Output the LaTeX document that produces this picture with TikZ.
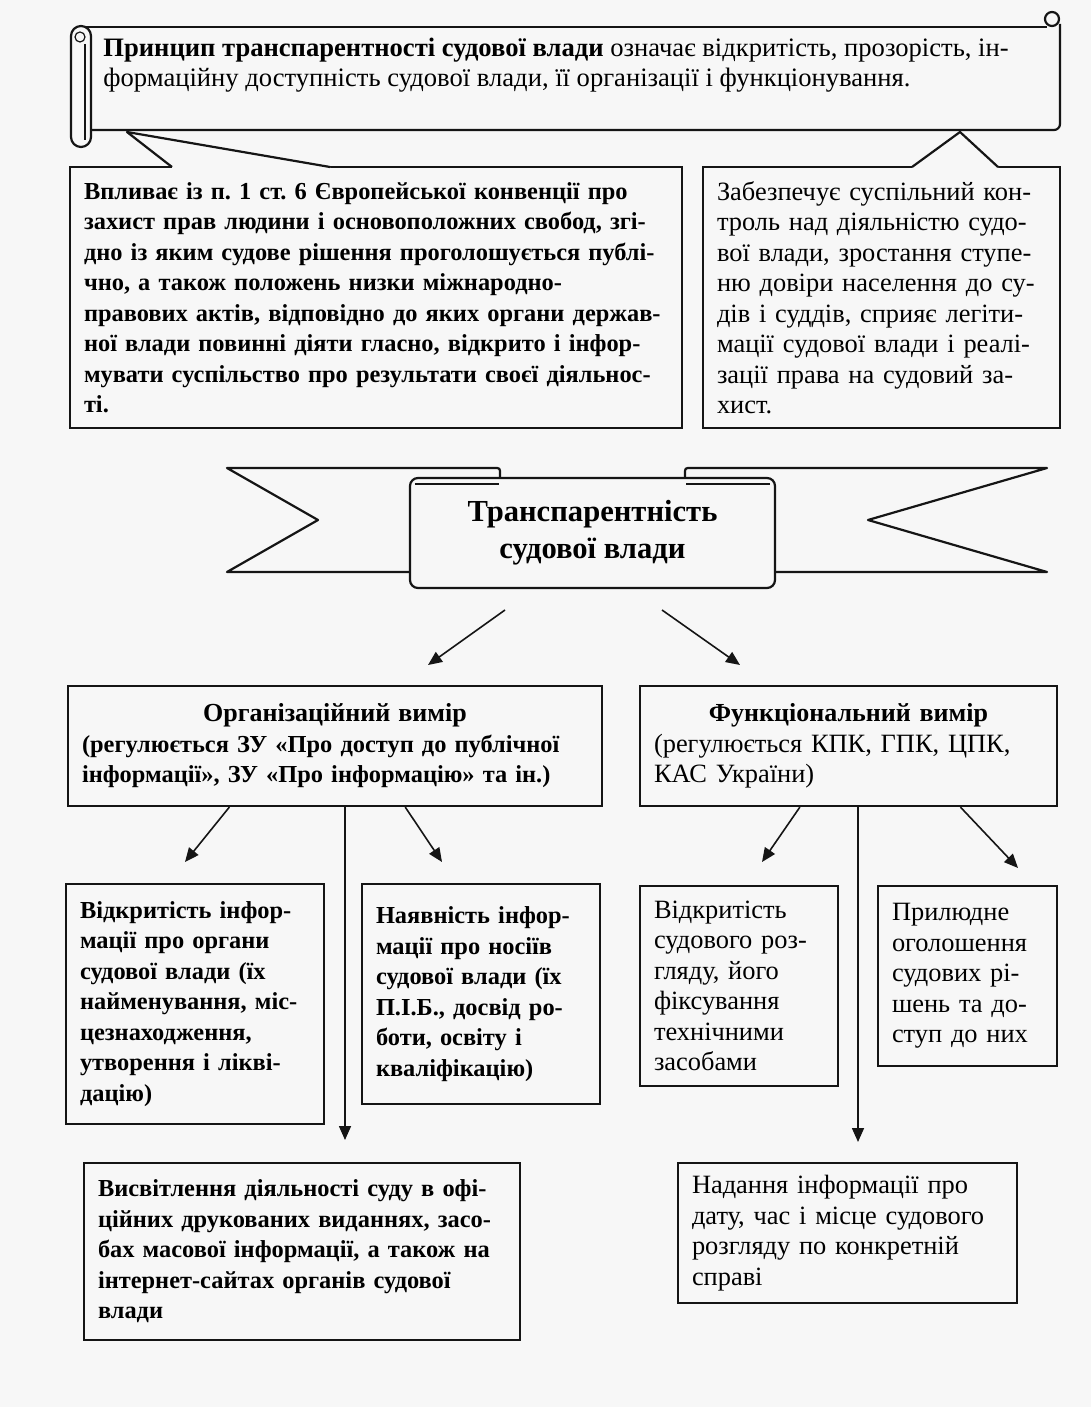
\documentclass[tikz,border=0pt]{standalone}
\usepackage{fontspec}
\setmainfont{Liberation Serif}
\usetikzlibrary{arrows.meta,calc}
\definecolor{paper}{HTML}{F7F7F7}
\definecolor{ink}{HTML}{151515}
\newcommand{\txtbody}{\frenchspacing\fontsize{13.2}{15.25}\selectfont}
\newcommand{\txtbold}{\frenchspacing\fontsize{12.2}{15.25}\selectfont\bfseries}

\begin{document}
\begin{tikzpicture}[x=0.5pt,y=-0.5pt,
  edge/.style={draw=ink,line width=1.1pt,line join=round},
  fine/.style={draw=ink,line width=0.6pt},
  box/.style={draw=ink,line width=1.1pt,fill=paper,align=left,inner xsep=7pt,inner ysep=0pt,font=\txtbody},
  bbox/.style={box,font=\txtbold},
  arr/.style={-{Triangle[length=7pt,width=6pt]},draw=ink,line width=0.8pt}]
  \fill[paper] (0,0) rectangle (1091,1407);
  \useasboundingbox (0,0) rectangle (1091,1407);
  % callout boxes under the scroll
  \node[bbox,text width=292pt,minimum height=130.5pt] (lbox) at (376,297.5)
    {Впливає із п. 1 ст. 6 Європейської конвенції про\\
     захист прав людини і основоположних свобод, згі-\\
     дно із яким судове рішення проголошується публі-\\
     чно, а також положень низки міжнародно-\\
     правових актів, відповідно до яких органи держав-\\
     ної влади повинні діяти гласно, відкрито і інфор-\\
     мувати суспільство про результати своєї діяльнос-\\
     ті.};
  \node[box,text width=164.5pt,minimum height=130.5pt] (rbox) at (881.5,297.5)
    {Забезпечує суспільний кон-\\
     троль над діяльністю судо-\\
     вої влади, зростання ступе-\\
     ню довіри населення до су-\\
     дів і суддів, сприяє легіти-\\
     мації судової влади і реалі-\\
     зації права на судовий за-\\
     хист.};
  % tails of the callouts
  \fill[paper] (127,132) -- (172,167) -- (172,171) -- (330,171) -- (330,167) -- cycle;
  \draw[edge] (172,167) -- (127,132) -- (330,167);
  \fill[paper] (960,132) -- (912,167) -- (912,171) -- (998,171) -- (998,167) -- cycle;
  \draw[edge] (912,167) -- (960,132) -- (998,167);
  % scroll
  \fill[paper] (91,27) rectangle (1060,130);
  \draw[edge] (80,27) -- (1047,27);
  \draw[edge,rounded corners=3pt] (1060,24) -- (1060,130) -- (91,130);
  \draw[edge] (1052,19) circle[radius=3.5pt];
  \filldraw[edge,fill=paper,rounded corners=5pt] (71,26) rectangle (91,147);
  \draw[fine] (85,44) -- (85,140);
  \draw[fine] (80,37) circle[radius=2.5pt];
  \node[anchor=west,align=left,inner sep=0pt,font=\frenchspacing\fontsize{13.3}{15.25}\selectfont] (princ) at (103,65)
    {\textbf{Принцип транспарентності судової влади} означає відкритість, прозорість, ін-\\
     формаційну доступність судової влади, її організації і функціонування.};
  % ribbon
  \filldraw[edge,fill=paper] (410,572) -- (227,572) -- (318,520) -- (227,468) -- (494,468) .. controls (500,468) .. (500,474) -- (500,500);
  \filldraw[edge,fill=paper] (775,572) -- (1047,572) -- (868,520) -- (1047,468) -- (691,468) .. controls (685,468) .. (685,474) -- (685,500);
  \node[draw=ink,line width=1.1pt,fill=paper,rounded corners=4pt,minimum width=182.5pt,minimum height=55pt,
    align=center,font=\fontsize{15.3}{18.5}\selectfont\bfseries] (title) at (592.5,533)
    {Транспарентність\\судової влади};
  \draw[fine] ($(title.north west)+(6,7)$) -- ($(title.north west)+(90,7)$);
  \draw[fine] ($(title.north east)+(-90,7)$) -- ($(title.north east)+(-6,7)$);
  % two dimensions
  \node[bbox,text width=253pt,minimum height=60pt] (org) at (335,746)
    {{\centering\fontsize{13}{15.25}\selectfont Організаційний вимір\par}
     (регулюється ЗУ «Про доступ до публічної\\
     інформації», ЗУ «Про інформацію» та ін.)};
  \node[box,text width=194.5pt,minimum height=60pt] (func) at (848.5,746)
    {{\centering\fontsize{13}{15.25}\selectfont\bfseries Функціональний вимір\par}
     (регулюється КПК, ГПК, ЦПК,\\
     КАС України)};
  \coordinate (tla) at (505,610);
  \coordinate (tlb) at (428,665);
  \coordinate (tra) at (662,610);
  \coordinate (trb) at (740,665);
  \draw[arr] (tla) -- (tlb);
  \draw[arr] (tra) -- (trb);
  % lower boxes
  \node[bbox,text width=115pt,minimum height=120pt] (opena) at (195,1004)
    {Відкритість інфор-\\мації про органи\\судової влади (їх\\найменування, міс-\\цезнаходження,\\утворення і ліквi-\\дацію)};
  \node[bbox,text width=105pt,minimum height=110pt] (persb) at (481,994)
    {Наявність інфор-\\мації про носіїв\\судової влади (їх\\П.І.Б., досвід ро-\\боти, освіту і\\кваліфікацію)};
  \node[box,text width=85pt,minimum height=100pt] (hearc) at (739,986)
    {Відкритість\\судового роз-\\гляду, його\\фіксування\\технічними\\засобами};
  \node[box,text width=75.5pt,minimum height=90pt] (publd) at (967.5,976)
    {Прилюдне\\оголошення\\судових рі-\\шень та до-\\ступ до них};
  \node[bbox,text width=204pt,minimum height=88.5pt] (mediae) at (302,1251.5)
    {Висвітлення діяльності суду в офі-\\ційних друкованих виданнях, засо-\\бах масової інформації, а також на\\інтернет-сайтах органів судової\\влади};
  \node[box,text width=155.5pt,minimum height=70pt] (datef) at (847.5,1233)
    {Надання інформації про\\дату, час і місце судового\\розгляду по конкретній\\справі};
  \coordinate (oa) at (185,862);
  \coordinate (ob) at (345,1140);
  \coordinate (oc) at (442,862);
  \coordinate (fa) at (762,862);
  \coordinate (fb) at (858,1142);
  \coordinate (fc) at (1018,868);
  \draw[arr] ($(org.south west)!0.303!(org.south east)$) -- (oa);
  \draw[arr] (org.south -| ob) -- (ob);
  \draw[arr] ($(org.south west)!0.631!(org.south east)$) -- (oc);
  \draw[arr] ($(func.south west)!0.384!(func.south east)$) -- (fa);
  \draw[arr] (func.south -| fb) -- (fb);
  \draw[arr] ($(func.south west)!0.767!(func.south east)$) -- (fc);
\end{tikzpicture}
\end{document}
